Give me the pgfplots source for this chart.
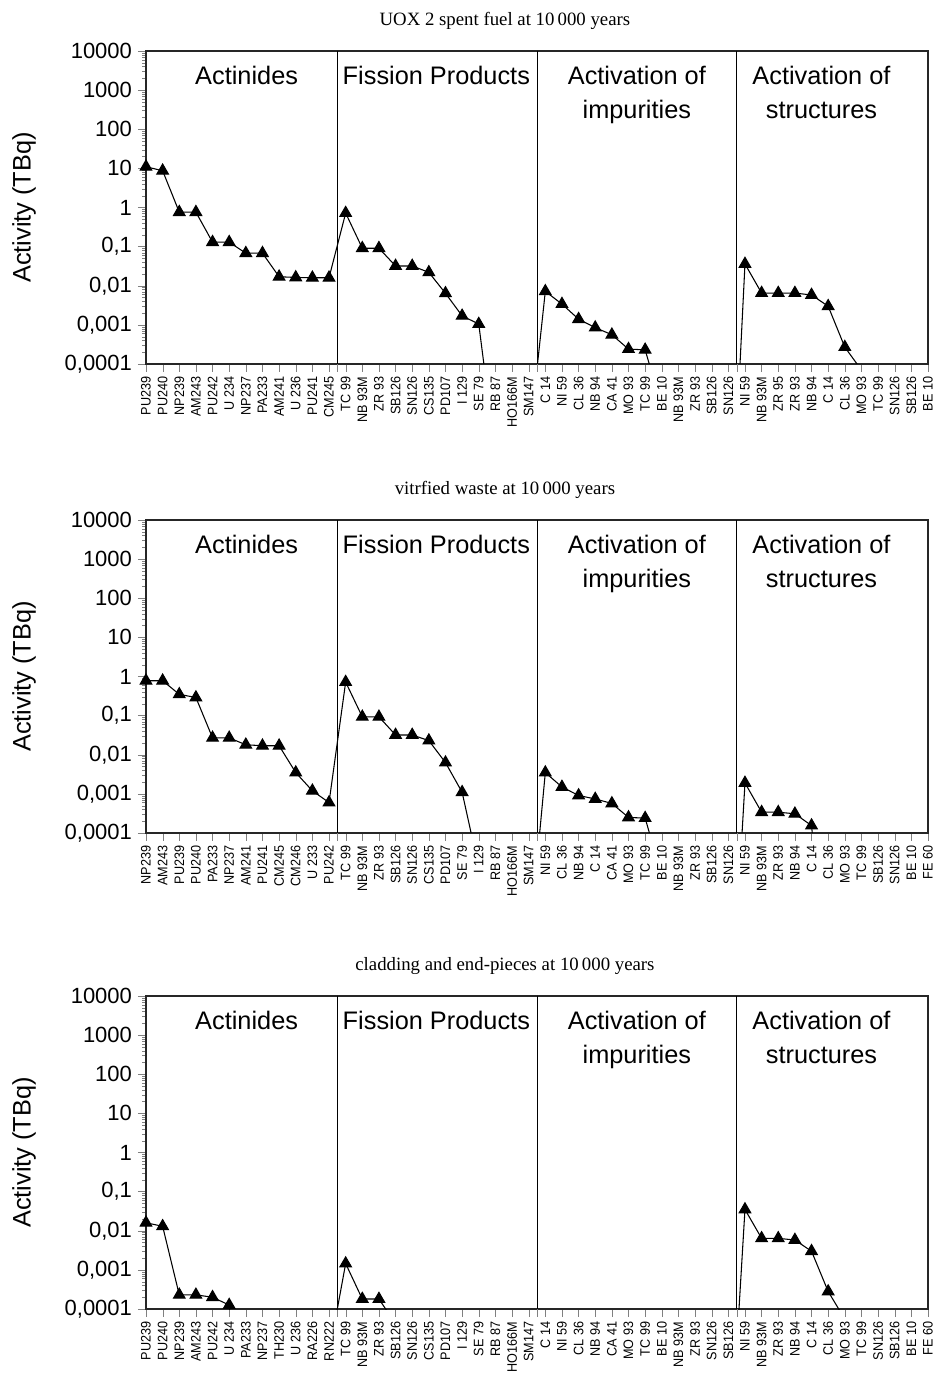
\documentclass[border=0pt]{standalone}
\usepackage{fontspec}
\setmainfont{Liberation Sans}
\newfontfamily\titlefont{Liberation Serif}
\newfontfamily\tickfont{Liberation Sans}[FakeStretch=0.92]
\usepackage{pgfplots}
\pgfplotsset{compat=1.18}

% common look of the three panels
\pgfplotsset{
  actpanel/.style={
    anchor=south west,
    scale only axis, width=586.5pt, height=234.75pt,
    ymin=1e-4, ymax=1e4,
    xmin=0, xmax=47,
    xtick={0,...,47},
    ytick={1e-4,1e-3,1e-2,1e-1,1,10,100,1000,10000},
    yticklabels={{0,0001},{0,001},{0,01},{0,1},1,10,100,1000,10000},
    tick align=outside, tick pos=left,
    major tick length=6pt,
    xticklabel style={rotate=90, anchor=east, font=\tickfont\fontsize{10.3}{11}\selectfont},
    yticklabel style={font=\fontsize{16.5}{18}\selectfont, xshift=-1pt},
    ylabel={Activity (TBq)},
    ylabel style={at={(rel axis cs:-0.156,0.5)}, anchor=center, font=\fontsize{19}{21}\selectfont},
    extra x ticks={11.5,23.5,35.5},
    extra x tick labels={},
    extra x tick style={grid=major, major grid style={black, line width=0.6pt}},
    axis line style={line width=0.8pt, black!85},
    title style={at={(rel axis cs:0.459,1)}, anchor=base, yshift=12.75pt,
      font=\titlefont\fontsize{14.1}{16}\selectfont},
  },
  actline/.style={black, line width=0.8pt, mark=triangle*, mark size=5pt},
}

\newcommand\glfont{\fontsize{19}{21}\selectfont}
\newcommand\grouplabels{%
  \node[font=\glfont, anchor=base] at (rel axis cs:0.1287,0.893) {Actinides};
  \node[font=\glfont, anchor=base] at (rel axis cs:0.3713,0.893) {Fission Products};
  \node[font=\glfont, anchor=base] at (rel axis cs:0.6277,0.893) {Activation of};
  \node[font=\glfont, anchor=base] at (rel axis cs:0.6277,0.785) {impurities};
  \node[font=\glfont, anchor=base] at (rel axis cs:0.8638,0.893) {Activation of};
  \node[font=\glfont, anchor=base] at (rel axis cs:0.8638,0.785) {structures};
}

\begin{document}
\begin{tikzpicture}
\useasboundingbox (0,0) rectangle (702pt,1034.25pt);

% UOX 2 spent fuel
\begin{semilogyaxis}[actpanel, at={(109.5pt,761.25pt)},
  title={UOX 2 spent fuel at 10\,000 years},
  xticklabels={PU239,PU240,NP239,AM243,PU242,U 234,NP237,PA233,AM241,U 236,PU241,CM245,
    TC 99,NB 93M,ZR 93,SB126,SN126,CS135,PD107,I 129,SE 79,RB 87,HO166M,SM147,
    C 14,NI 59,CL 36,NB 94,CA 41,MO 93,TC 99,BE 10,NB 93M,ZR 93,SB126,SN126,
    NI 59,NB 93M,ZR 95,ZR 93,NB 94,C 14,CL 36,MO 93,TC 99,SN126,SB126,BE 10}]
\addplot[actline] coordinates {
  (0,11) (1,8.7) (2,0.76) (3,0.76) (4,0.13) (5,0.13) (6,0.068) (7,0.068)
  (8,0.017) (9,0.0163) (10,0.016) (11,0.016)
  (12,0.72) (13,0.091) (14,0.091) (15,0.032) (16,0.032) (17,0.022) (18,0.0064)
  (19,0.0017) (20,0.00105) (21,5e-7) (22,3e-7) (23,8e-7)
  (24,0.0072) (25,0.0034) (26,0.0014) (27,0.00085) (28,0.00056) (29,0.00024)
  (30,0.00023) (31,8e-6) (32,1e-7) (33,1e-8) (34,1e-9) (35,1e-10)
  (36,0.036) (37,0.0065) (38,0.0065) (39,0.0065) (40,0.0058) (41,0.003)
  (42,0.00027) (43,7e-5) (44,1e-6) (45,1e-7) (46,1e-8) (47,1e-9)};
\grouplabels
\end{semilogyaxis}

% vitrified waste
\begin{semilogyaxis}[actpanel, at={(109.5pt,409.5pt)},
  title={vitrfied waste at 10\,000 years},
  xticklabels={NP239,AM243,PU239,PU240,PA233,NP237,AM241,PU241,CM245,CM246,U 233,PU242,
    TC 99,NB 93M,ZR 93,SB126,SN126,CS135,PD107,SE 79,I 129,RB 87,HO166M,SM147,
    NI 59,CL 36,NB 94,C 14,CA 41,MO 93,TC 99,BE 10,NB 93M,ZR 93,SB126,SN126,
    NI 59,NB 93M,ZR 93,NB 94,C 14,CL 36,MO 93,TC 99,SB126,SN126,BE 10,FE 60}]
\addplot[actline] coordinates {
  (0,0.78) (1,0.78) (2,0.35) (3,0.29) (4,0.027) (5,0.027) (6,0.018) (7,0.017)
  (8,0.017) (9,0.0035) (10,0.0012) (11,0.0006)
  (12,0.72) (13,0.093) (14,0.093) (15,0.032) (16,0.032) (17,0.023) (18,0.0063)
  (19,0.0011) (20,1.3e-5) (21,1e-6) (22,1e-7) (23,1e-7)
  (24,0.0035) (25,0.0015) (26,0.00091) (27,0.00074) (28,0.00057) (29,0.00025)
  (30,0.00024) (31,8e-6) (32,1e-7) (33,1e-8) (34,1e-9) (35,1e-10)
  (36,0.0019) (37,0.00034) (38,0.00034) (39,0.00031) (40,0.000155) (41,1e-8)
  (42,1e-9) (43,1e-9) (44,1e-9) (45,1e-9) (46,1e-9) (47,1e-9)};
\grouplabels
\end{semilogyaxis}

% cladding and end-pieces
\begin{semilogyaxis}[actpanel, at={(109.5pt,52.5pt)},
  title={cladding and end-pieces at 10\,000 years},
  xticklabels={PU239,PU240,NP239,AM243,PU242,U 234,PA233,NP237,TH230,U 236,RA226,RN222,
    TC 99,NB 93M,ZR 93,SB126,SN126,CS135,PD107,I 129,SE 79,RB 87,HO166M,SM147,
    C 14,NI 59,CL 36,NB 94,CA 41,MO 93,TC 99,BE 10,NB 93M,ZR 93,SN126,SB126,
    NI 59,NB 93M,ZR 93,NB 94,C 14,CL 36,MO 93,TC 99,SN126,SB126,BE 10,FE 60}]
\addplot[actline] coordinates {
  (0,0.016) (1,0.013) (2,0.00023) (3,0.00023) (4,0.0002) (5,0.000126)
  (6,1e-9) (7,1e-9) (8,1e-9) (9,1e-9) (10,1e-9) (11,7e-6)
  (12,0.00145) (13,0.00018) (14,0.00018) (15,4.2e-5) (16,1e-9) (17,1e-9)
  (18,1e-9) (19,1e-9) (20,1e-9) (21,1e-9) (22,1e-9) (23,1e-9)
  (24,1e-9) (25,1e-9) (26,1e-9) (27,1e-9) (28,1e-9) (29,1e-9)
  (30,1e-9) (31,1e-9) (32,1e-9) (33,1e-9) (34,1e-9) (35,3e-9)
  (36,0.035) (37,0.0064) (38,0.0064) (39,0.0058) (40,0.003) (41,0.00028)
  (42,5.5e-5) (43,1e-9) (44,1e-9) (45,1e-9) (46,1e-9) (47,1e-9)};
\grouplabels
\end{semilogyaxis}
\end{tikzpicture}
\end{document}
